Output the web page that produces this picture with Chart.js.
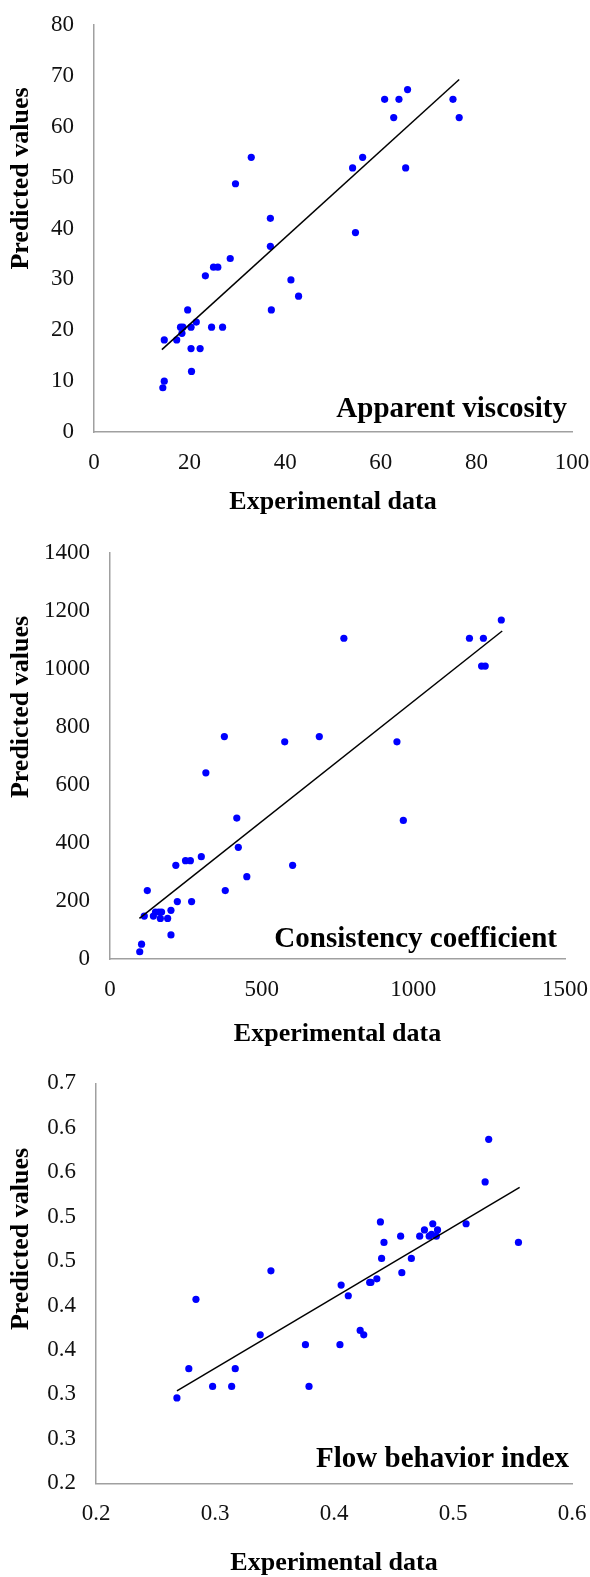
<!DOCTYPE html>
<html>
<head>
<meta charset="utf-8">
<script src="https://cdn.jsdelivr.net/npm/chart.js@4.4.1/dist/chart.umd.min.js"></script>
<style>
  body { margin: 0; background: #fff; }
  .box { position: absolute; left: 0; width: 590px; }
  canvas { display: block; }
</style>
</head>
<body>
<div class="box" style="top:0"><canvas id="c1" width="590" height="520"></canvas></div>
<div class="box" style="top:520px"><canvas id="c2" width="590" height="530"></canvas></div>
<div class="box" style="top:1050px"><canvas id="c3" width="590" height="527"></canvas></div>
<script>
// Apparent viscosity
const visX = [60.8, 63.8, 65.6, 75.1, 62.7, 76.4, 32.9, 56.2, 54.1, 65.2, 29.6, 36.9, 54.7, 36.9, 28.5, 25.0, 25.9, 23.3, 41.2, 42.8, 19.6, 37.1, 18.1, 18.6, 20.3, 21.4, 24.6, 26.9, 18.4, 14.7, 17.3, 20.3, 22.2, 20.4, 14.7, 14.4];
const visY = [65.4, 65.4, 67.3, 65.4, 61.8, 61.8, 54.0, 54.0, 51.9, 51.9, 48.8, 42.0, 39.2, 36.5, 34.1, 32.4, 32.4, 30.7, 29.9, 26.7, 24.0, 24.0, 20.6, 20.6, 20.6, 21.6, 20.6, 20.6, 19.4, 18.1, 18.1, 16.4, 16.4, 11.9, 10.0, 8.7];
const visTrendX = [14.2, 76.4];
const visTrendY = [16.2, 69.3];

// Consistency coefficient
const consX = [316, 377, 576, 690, 771, 946, 1185, 1231, 1225, 1237, 1290, 418, 967, 423, 301, 249, 265, 217, 602, 451, 123, 380, 222, 269, 201, 150, 161, 170, 113, 143, 166, 190, 201, 104, 98];
const consY = [642, 767, 749, 767, 1106, 749, 1106, 1106, 1010, 1010, 1169, 486, 478, 385, 353, 339, 339, 323, 323, 284, 236, 236, 198, 198, 168, 162, 162, 162, 148, 148, 140, 140, 83, 51, 25];
const consTrendX = [97, 1293];
const consTrendY = [140, 1131];

// Flow behavior index
const flowX = [0.530, 0.527, 0.555, 0.511, 0.483, 0.476, 0.487, 0.439, 0.456, 0.472, 0.480, 0.482, 0.486, 0.442, 0.440, 0.465, 0.347, 0.457, 0.436, 0.430, 0.431, 0.406, 0.412, 0.284, 0.338, 0.422, 0.425, 0.376, 0.405, 0.278, 0.317, 0.298, 0.314, 0.379, 0.268];
const flowY = [0.587, 0.539, 0.471, 0.492, 0.492, 0.485, 0.485, 0.494, 0.478, 0.478, 0.478, 0.480, 0.478, 0.471, 0.453, 0.453, 0.439, 0.437, 0.430, 0.426, 0.426, 0.423, 0.411, 0.407, 0.367, 0.372, 0.367, 0.356, 0.356, 0.329, 0.329, 0.309, 0.309, 0.309, 0.296];
const flowTrendX = [0.268, 0.556];
const flowTrendY = [0.304, 0.533];

const SERIF = '"Liberation Serif", "Times New Roman", serif';

const pairs = (xs, ys) => xs.map((x, i) => ({ x: x, y: ys[i] }));

// label inside the plot + rotated y title (off-centre like the original)
const overlay = {
  id: 'overlay',
  afterDraw(chart, args, opts) {
    const { ctx, chartArea } = chart;
    ctx.save();
    ctx.fillStyle = '#000';
    ctx.font = 'bold 29px ' + SERIF;
    ctx.textAlign = 'right';
    ctx.textBaseline = 'alphabetic';
    ctx.fillText(opts.label, chartArea.right - opts.dx, chartArea.bottom - opts.dy);
    ctx.translate(21, opts.titleY);
    ctx.rotate(-Math.PI / 2);
    ctx.font = 'bold 26px ' + SERIF;
    ctx.textAlign = 'center';
    ctx.textBaseline = 'middle';
    ctx.fillText('Predicted values', 0, 0);
    ctx.restore();
  }
};

function makeChart(id, o) {
  return new Chart(document.getElementById(id), {
    type: 'scatter',
    data: {
      datasets: [
        {
          data: pairs(o.trendX, o.trendY),
          showLine: true,
          borderColor: '#000',
          borderWidth: 1.5,
          pointRadius: 0
        },
        {
          data: pairs(o.x, o.y),
          backgroundColor: '#0000ff',
          borderColor: '#0000ff',
          borderWidth: 0,
          pointRadius: 3.6
        }
      ]
    },
    options: {
      responsive: false,
      animation: false,
      devicePixelRatio: 1,
      layout: { padding: { top: o.top, right: o.right, left: 0, bottom: 0 } },
      plugins: {
        legend: { display: false },
        tooltip: { enabled: false },
        overlay: { label: o.label, dx: o.dx, dy: o.dy, titleY: o.titleY }
      },
      scales: {
        x: {
          type: 'linear',
          min: o.xMin, max: o.xMax,
          afterFit: s => { s.height = o.xHeight; },
          // grid hidden; tickLength only used as the gap under the axis
          grid: { display: false, drawTicks: true, tickLength: 17 },
          border: { display: true, color: '#a0a0a0', width: 1.5 },
          ticks: {
            stepSize: o.xStep, padding: 0, color: '#111',
            font: { family: SERIF, size: 23 },
            callback: o.xFmt
          },
          title: {
            display: true, text: 'Experimental data', color: '#000',
            font: { family: SERIF, size: 26, weight: 'bold', lineHeight: 1 },
            padding: { top: 0, bottom: o.titlePad }
          }
        },
        y: {
          type: 'linear',
          min: o.yMin, max: o.yMax,
          afterFit: s => { s.width = o.yWidth; },
          grid: { display: false, drawTicks: true, tickLength: 20 },
          border: { display: true, color: '#a0a0a0', width: 1.5 },
          ticks: {
            stepSize: o.yStep, padding: 0, color: '#111',
            font: { family: SERIF, size: 23 },
            callback: o.yFmt
          }
        }
      }
    },
    plugins: [overlay]
  });
}

makeChart('c1', {
  x: visX, y: visY, trendX: visTrendX, trendY: visTrendY,
  xMin: 0, xMax: 100, xStep: 20, yMin: 0, yMax: 80, yStep: 10,
  xFmt: v => v, yFmt: v => v,
  top: 25, right: 18, yWidth: 94, xHeight: 88, titlePad: 4.5,
  label: 'Apparent viscosity', dx: 5, dy: 15, titleY: 178.5
});

makeChart('c2', {
  x: consX, y: consY, trendX: consTrendX, trendY: consTrendY,
  xMin: 0, xMax: 1500, xStep: 500, yMin: 0, yMax: 1400, yStep: 200,
  xFmt: v => v, yFmt: v => v,
  top: 33, right: 25, yWidth: 110, xHeight: 91, titlePad: 3,
  label: 'Consistency coefficient', dx: 8, dy: 12, titleY: 187
});

makeChart('c3', {
  x: flowX, y: flowY, trendX: flowTrendX, trendY: flowTrendY,
  xMin: 0.2, xMax: 0.6, xStep: 0.1, yMin: 0.2, yMax: 0.65, yStep: 0.05,
  xFmt: v => v.toFixed(1),
  yFmt: v => (Math.floor(Math.round(v * 20) / 2 + 0.5 + 1e-9) / 10).toFixed(1),
  top: 33.3, right: 18, yWidth: 96, xHeight: 93.7, titlePad: 1,
  label: 'Flow behavior index', dx: 3, dy: 16.5, titleY: 189
});
</script>
</body>
</html>
